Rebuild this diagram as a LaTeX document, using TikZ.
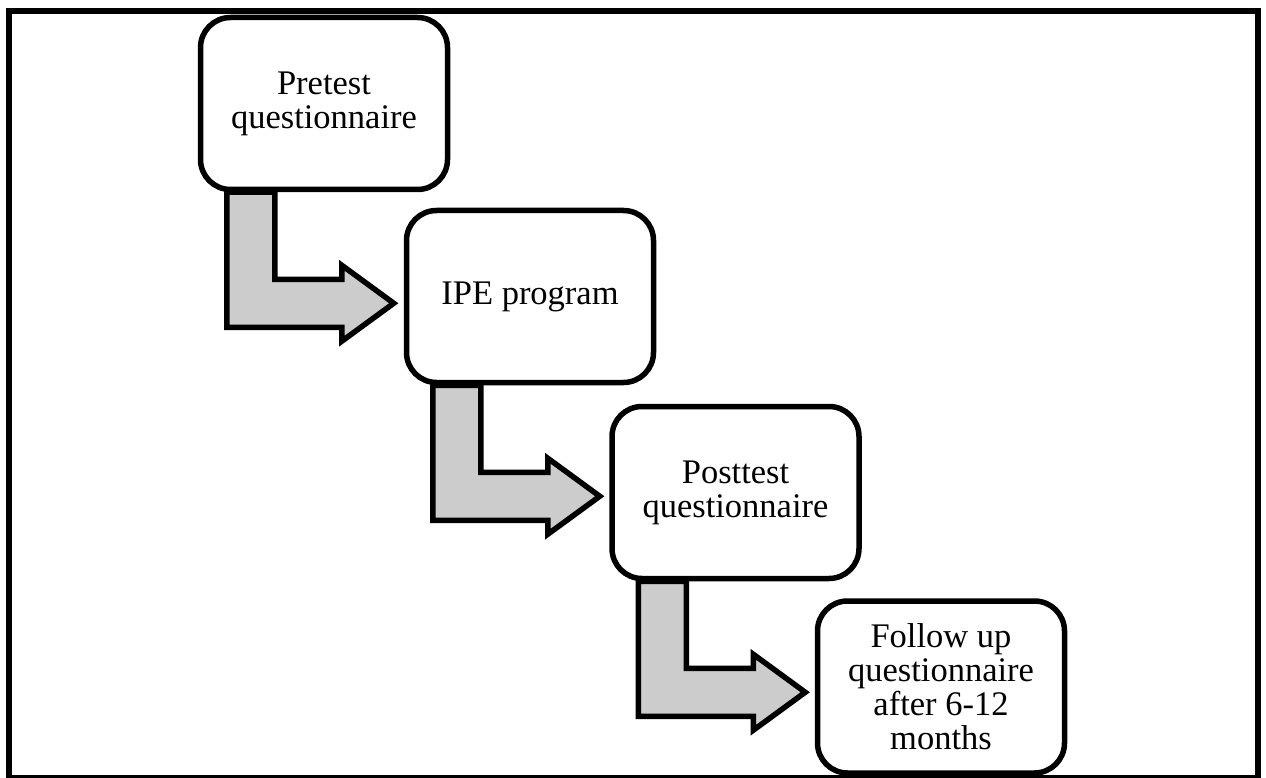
\documentclass[tikz,border=0pt]{standalone}
\usepackage{fontspec}
\setmainfont{Liberation Serif}
\usetikzlibrary{calc,backgrounds}
\definecolor{arrowgray}{RGB}{204,204,204}
\begin{document}
\begin{tikzpicture}[x=1pt,y=-1pt,
  stepbox/.style={draw=black, line width=5.5pt, rounded corners=30pt, fill=white,
    minimum width=247pt, minimum height=172pt, inner sep=0pt, align=center,
    font=\fontsize{34.5}{34}\selectfont},
  flowarrow/.style={draw=black, line width=5.5pt, fill=arrowgray, line join=miter, miter limit=10}]
\useasboundingbox (0,0) rectangle (1266,778);
\draw[line width=6pt] (9,11) rectangle (1257.5,778);
\node[stepbox] (b1) at (324,103.5) {Pretest\\questionnaire};
\node[stepbox] (b2) at (530,296.5) {IPE program};
\node[stepbox] (b3) at (735.5,492.5) {Posttest\\questionnaire};
\node[stepbox] (b4) at (941,687) {Follow up\\questionnaire\\after 6-12\\months};
\begin{scope}[on background layer]
\foreach \a/\b in {b1/b2,b2/b3,b3/b4} {
  \draw[flowarrow] ($(\a.south west)+(29,0)$) -- ++(0,135) -- ++(115,0) -- ++(0,14)
    -- ++(52,-38) -- ++(-52,-38) -- ++(0,14) -- ++(-67,0) -- ++(0,-87) -- cycle;
}
\end{scope}
\end{tikzpicture}
\end{document}
